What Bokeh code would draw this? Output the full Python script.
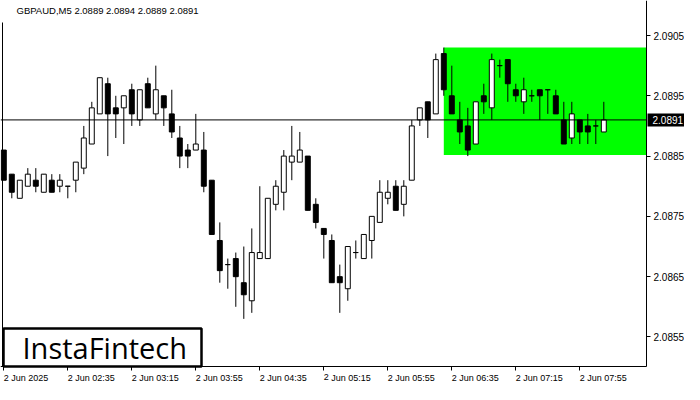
from bokeh.plotting import figure
from bokeh.models import (ColumnDataSource, Range1d, FixedTicker, Label, LinearAxis,
                          BoxAnnotation, NumeralTickFormatter)
from bokeh.core.properties import value
from bokeh.embed import file_html
from bokeh.resources import INLINE

# ---------------- data ----------------
symbol = "GBPAUD,M5"
last_ohlc = ["2.0889", "2.0894", "2.0889", "2.0891"]

tick_index = [0, 8, 16, 24, 32, 40, 48, 56, 64, 72]
tick_labels = ["2 Jun 2025", "2 Jun 02:35", "2 Jun 03:15", "2 Jun 03:55",
               "2 Jun 04:35", "2 Jun 05:15", "2 Jun 05:55", "2 Jun 06:35",
               "2 Jun 07:15", "2 Jun 07:55"]

opens = [2.0886, 2.0882, 2.0878, 2.0880, 2.0881, 2.0879, 2.0881, 2.0880, 2.0880, 2.0881,
         2.0883, 2.0887, 2.0892, 2.0897, 2.0893, 2.0893, 2.0896, 2.0891, 2.0897, 2.0892,
         2.0895, 2.0892, 2.0888, 2.0886, 2.0886, 2.0886, 2.0881, 2.0871, 2.0867, 2.0868,
         2.0864, 2.0861, 2.0868, 2.0868, 2.0877, 2.0879, 2.0884, 2.0884, 2.0885, 2.0877,
         2.0873, 2.0871, 2.0865, 2.0863, 2.0869, 2.0868, 2.0871, 2.0874, 2.0878, 2.0880,
         2.0877, 2.0881, 2.0891, 2.0894, 2.0892, 2.0902, 2.0895, 2.0891, 2.0890, 2.0887,
         2.0895, 2.0893, 2.0900, 2.0901, 2.0896, 2.0894, 2.0895, 2.0896, 2.0896, 2.0895,
         2.0891, 2.0888, 2.0891, 2.0890, 2.0890, 2.0889]
highs = [2.0886, 2.0882, 2.0881, 2.0883, 2.0883, 2.0882, 2.0882, 2.0882, 2.0880, 2.0884,
         2.0890, 2.0894, 2.0898, 2.0898, 2.0895, 2.0895, 2.0897, 2.0896, 2.0898, 2.0900,
         2.0895, 2.0896, 2.0890, 2.0887, 2.0892, 2.0889, 2.0881, 2.0874, 2.0868, 2.0869,
         2.0870, 2.0873, 2.0880, 2.0878, 2.0881, 2.0886, 2.0890, 2.0889, 2.0885, 2.0878,
         2.0873, 2.0872, 2.0867, 2.0870, 2.0871, 2.0872, 2.0875, 2.0881, 2.0881, 2.0881,
         2.0881, 2.0891, 2.0893, 2.0894, 2.0902, 2.0903, 2.0900, 2.0894, 2.0893, 2.0894,
         2.0897, 2.0902, 2.0901, 2.0901, 2.0897, 2.0898, 2.0896, 2.0896, 2.0896, 2.0896,
         2.0894, 2.0894, 2.0891, 2.0892, 2.0891, 2.0894]
lows = [2.0881, 2.0878, 2.0878, 2.0880, 2.0879, 2.0879, 2.0879, 2.0879, 2.0878, 2.0879,
        2.0882, 2.0887, 2.0892, 2.0885, 2.0888, 2.0887, 2.0890, 2.0890, 2.0893, 2.0891,
        2.0890, 2.0888, 2.0883, 2.0883, 2.0886, 2.0879, 2.0872, 2.0864, 2.0863, 2.0860,
        2.0858, 2.0859, 2.0868, 2.0868, 2.0876, 2.0876, 2.0881, 2.0884, 2.0876, 2.0873,
        2.0868, 2.0864, 2.0859, 2.0861, 2.0868, 2.0868, 2.0868, 2.0874, 2.0877, 2.0876,
        2.0875, 2.0881, 2.0890, 2.0888, 2.0892, 2.0895, 2.0892, 2.0887, 2.0885, 2.0887,
        2.0892, 2.0891, 2.0898, 2.0894, 2.0894, 2.0892, 2.0894, 2.0891, 2.0892, 2.0892,
        2.0887, 2.0887, 2.0887, 2.0887, 2.0887, 2.0889]
closes = [2.0881, 2.0879, 2.0881, 2.0882, 2.0880, 2.0882, 2.0879, 2.0881, 2.0880, 2.0884,
          2.0888, 2.0893, 2.0898, 2.0892, 2.0892, 2.0895, 2.0892, 2.0896, 2.0893, 2.0896,
          2.0893, 2.0889, 2.0885, 2.0885, 2.0887, 2.0880, 2.0872, 2.0866, 2.0867, 2.0865,
          2.0862, 2.0869, 2.0869, 2.0878, 2.0880, 2.0885, 2.0885, 2.0886, 2.0876, 2.0874,
          2.0872, 2.0864, 2.0864, 2.0870, 2.0869, 2.0872, 2.0875, 2.0879, 2.0879, 2.0876,
          2.0880, 2.0890, 2.0893, 2.0891, 2.0901, 2.0896, 2.0892, 2.0889, 2.0886, 2.0894,
          2.0894, 2.0901, 2.0900, 2.0897, 2.0895, 2.0896, 2.0895, 2.0895, 2.0896, 2.0892,
          2.0887, 2.0892, 2.0889, 2.0889, 2.0890, 2.0891]

price_ticks = [2.0855, 2.0865, 2.0875, 2.0885, 2.0895, 2.0905]
current_price = 2.0891
zone_start = 55
zone_top = 2.0903
zone_bottom = 2.08852
logo_text = "InstaFintech"

# ---------------- layout constants ----------------
W, H = 684, 384
PX_PER_BAR = 8.0
PX_PER_PRICE = 60291.0
X_START = -3.3 / PX_PER_BAR
X_END = X_START + W / PX_PER_BAR
AXIS_X = X_START + 646 / PX_PER_BAR            # price axis position
Y_TOP = 2.0905 + 35 / PX_PER_PRICE
Y_BOTTOM = Y_TOP - H / PX_PER_PRICE
AXIS_PRICE = Y_TOP - 366 / PX_PER_PRICE         # time axis position
FONT = "Liberation Sans"

n = len(opens)
idx = list(range(n))
src = ColumnDataSource(dict(
    x=idx, open=opens, high=highs, low=lows, close=closes,
    top=[max(o, c) for o, c in zip(opens, closes)],
    bottom=[min(o, c) for o, c in zip(opens, closes)],
    fill=["white" if c > o else "black" for o, c in zip(opens, closes)],
))

p = figure(width=W, height=H, output_backend="svg", toolbar_location=None,
           x_range=Range1d(X_START, X_END), y_range=Range1d(Y_BOTTOM, Y_TOP),
           x_axis_location=None, y_axis_location=None, min_border=0)
p.outline_line_color = None
p.grid.visible = False
p.background_fill_color = "white"
p.border_fill_color = "white"

# green zone
p.quad(left=[zone_start], right=[AXIS_X], top=[zone_top], bottom=[zone_bottom],
       fill_color="#00ff00", line_color=None)

# candles
p.segment(x0="x", y0="high", x1="x", y1="low", source=src, line_color="black", line_width=1)
p.vbar(x="x", width=0.62, top="top", bottom="bottom", source=src,
       fill_color="fill", line_color="black", line_width=1)

# left border line
p.segment(x0=[X_START + 2 / PX_PER_BAR], x1=[X_START + 2 / PX_PER_BAR],
          y0=[Y_TOP - 22 / PX_PER_PRICE], y1=[AXIS_PRICE], line_color="black", line_width=1)

# current price line
p.segment(x0=[X_START], x1=[AXIS_X], y0=[current_price], y1=[current_price],
          line_color="black", line_width=1)

# current price box on the price axis
p.quad(left=[AXIS_X + 1 / PX_PER_BAR], right=[X_END],
       top=[current_price + 6.5 / PX_PER_PRICE], bottom=[current_price - 6.5 / PX_PER_PRICE],
       fill_color="black", line_color=None)
p.text(x=[AXIS_X], y=[current_price], text=[f"{current_price:.4f}"], x_offset=6,
       text_baseline="middle", text_align="left", text_font=value(FONT),
       text_font_size="10px", text_color="white")

# price axis (right)
yax = LinearAxis(fixed_location=AXIS_X, bounds=(AXIS_PRICE, Y_TOP),
                 ticker=FixedTicker(ticks=price_ticks),
                 formatter=NumeralTickFormatter(format="0.0000"))
yax.axis_line_color = "black"
yax.major_tick_line_color = "black"
yax.major_tick_out = 4
yax.major_tick_in = 0
yax.minor_tick_line_color = None
yax.major_label_standoff = 3
yax.major_label_text_font = FONT
yax.major_label_text_font_size = "10px"
yax.major_label_text_color = "black"
p.add_layout(yax, "right")

# time axis (below)
xax = LinearAxis(fixed_location=AXIS_PRICE, bounds=(X_START, AXIS_X),
                 ticker=FixedTicker(ticks=tick_index),
                 major_label_overrides=dict(zip(tick_index, tick_labels)))
xax.axis_line_color = "black"
xax.major_tick_line_color = "black"
xax.major_tick_out = 4
xax.major_tick_in = 0
xax.minor_tick_line_color = None
xax.major_label_orientation = -0.0001
xax.major_label_standoff = 7
xax.major_label_text_font = FONT
xax.major_label_text_font_size = "9px"
xax.major_label_text_color = "black"
p.add_layout(xax, "below")

# title
p.add_layout(Label(x=X_START, y=Y_TOP, x_offset=16, y_offset=-4,
                   text=symbol + "  " + " ".join(last_ohlc),
                   text_baseline="top", text_align="left", text_font=FONT,
                   text_font_size="9.5px", text_color="black"))

# logo
p.add_layout(BoxAnnotation(left=X_START + 3 / PX_PER_BAR, right=X_START + 201 / PX_PER_BAR,
                           bottom=AXIS_PRICE, top=AXIS_PRICE + 38 / PX_PER_PRICE,
                           fill_color="white", fill_alpha=1.0,
                           line_color="black", line_width=2.5, line_alpha=1.0))
p.add_layout(Label(x=X_START, y=AXIS_PRICE, x_offset=22, y_offset=19, text=logo_text,
                   text_baseline="middle", text_align="left",
                   text_font="Open Sans", text_font_size="29px",
                   text_color="black"))

open("out.html", "w").write(file_html(p, INLINE))
